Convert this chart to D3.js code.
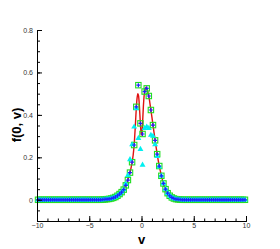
<!DOCTYPE html>
<html>
<head>
<meta charset="utf-8">
<script src="https://cdn.jsdelivr.net/npm/d3@7"></script>
<style>
  body { margin: 0; background: #fff; }
  svg { display: block; }
</style>
</head>
<body>
<div id="plot"></div>
<script>
const FRAME_WIDTH = 280;
const FRAME_HEIGHT = 249;
const MARGINS = {left: 37, right: 34, top: 30, bottom: 28};

// velocity grid of the markers
const VEL = [
  -9.9, -9.7, -9.5, -9.3, -9.1, -8.9, -8.7, -8.5, -8.3, -8.1,
  -7.9, -7.7, -7.5, -7.3, -7.1, -6.9, -6.7, -6.5, -6.3, -6.1,
  -5.9, -5.7, -5.5, -5.3, -5.1, -4.9, -4.7, -4.5, -4.3, -4.1,
  -3.9, -3.7, -3.5, -3.3, -3.1, -2.9, -2.7, -2.5, -2.3, -2.1,
  -1.9, -1.7, -1.5, -1.3, -1.1, -0.9, -0.7, -0.5, -0.3, -0.1,
  0.1, 0.3, 0.5, 0.7, 0.9, 1.1, 1.3, 1.5, 1.7, 1.9,
  2.1, 2.3, 2.5, 2.7, 2.9, 3.1, 3.3, 3.5, 3.7, 3.9,
  4.1, 4.3, 4.5, 4.7, 4.9, 5.1, 5.3, 5.5, 5.7, 5.9,
  6.1, 6.3, 6.5, 6.7, 6.9, 7.1, 7.3, 7.5, 7.7, 7.9,
  8.1, 8.3, 8.5, 8.7, 8.9, 9.1, 9.3, 9.5, 9.7, 9.9
];

// green squares
const F_SQUARE = [
  0, 0, 0, 0, 0, 0, 0, 0, 0, 0,
  0, 0, 0, 0, 0, 0, 0, 0, 0, 0,
  0, 0, 0, 0, 0, 0, 0, 0, 0, 0,
  0, 0.001, 0.002, 0.003, 0.004, 0.006, 0.009, 0.013, 0.019, 0.027,
  0.036, 0.048, 0.068, 0.093, 0.128, 0.177, 0.258, 0.438, 0.54, 0.36,
  0.31, 0.51, 0.525, 0.489, 0.423, 0.352, 0.28, 0.215, 0.159, 0.113,
  0.077, 0.05, 0.031, 0.019, 0.011, 0.006, 0.003, 0.002, 0.001, 0,
  0, 0, 0, 0, 0, 0, 0, 0, 0, 0,
  0, 0, 0, 0, 0, 0, 0, 0, 0, 0,
  0, 0, 0, 0, 0, 0, 0, 0, 0, 0
];

// blue crosses
const F_CROSS = [
  0, 0, 0, 0, 0, 0, 0, 0, 0, 0,
  0, 0, 0, 0, 0, 0, 0, 0, 0, 0,
  0, 0, 0, 0, 0, 0, 0, 0, 0, 0,
  0, 0.001, 0.002, 0.003, 0.004, 0.006, 0.009, 0.013, 0.019, 0.027,
  0.036, 0.048, 0.068, 0.093, 0.128, 0.177, 0.258, 0.438, 0.54, 0.36,
  0.31, 0.51, 0.525, 0.489, 0.423, 0.352, 0.28, 0.215, 0.159, 0.113,
  0.077, 0.05, 0.031, 0.019, 0.011, 0.006, 0.003, 0.002, 0.001, 0,
  0, 0, 0, 0, 0, 0, 0, 0, 0, 0,
  0, 0, 0, 0, 0, 0, 0, 0, 0, 0,
  0, 0, 0, 0, 0, 0, 0, 0, 0, 0
];

// cyan triangles
const F_TRIANGLE = [
  0, 0, 0, 0, 0, 0, 0, 0, 0, 0,
  0, 0, 0, 0, 0, 0, 0, 0, 0, 0,
  0, 0, 0, 0, 0, 0, 0, 0, 0, 0,
  0, 0.001, 0.002, 0.003, 0.004, 0.006, 0.009, 0.013, 0.019, 0.027,
  0.036, 0.048, 0.075, 0.115, 0.19, 0.26, 0.344, 0.43, 0.29, 0.238,
  0.164, 0.337, 0.344, 0.337, 0.305, 0.3, 0.26, 0.205, 0.155, 0.113,
  0.077, 0.05, 0.031, 0.019, 0.011, 0.006, 0.003, 0.002, 0.001, 0,
  0, 0, 0, 0, 0, 0, 0, 0, 0, 0,
  0, 0, 0, 0, 0, 0, 0, 0, 0, 0,
  0, 0, 0, 0, 0, 0, 0, 0, 0, 0
];

// red reference curve
const LINE_V = [-10, -4, -3.5, -3, -2.6, -2.2, -1.9, -1.6, -1.3, -1.0, -0.8, -0.7, -0.6, -0.5,
  -0.42, -0.35, -0.28, -0.2, -0.12, -0.05, 0.02, 0.1, 0.18, 0.25, 0.33, 0.42, 0.5, 0.6,
  0.7, 0.8, 0.9, 1.0, 1.2, 1.4, 1.6, 1.8, 2.0, 2.2, 2.5, 2.8, 3.2, 3.6, 4.2, 10];
const LINE_F = [0, 0.0005, 0.002, 0.005, 0.01, 0.02, 0.036, 0.06, 0.094, 0.15, 0.21, 0.26, 0.34, 0.43,
  0.48, 0.5, 0.49, 0.44, 0.37, 0.32, 0.305, 0.36, 0.44, 0.49, 0.515, 0.53, 0.528, 0.51,
  0.488, 0.457, 0.423, 0.388, 0.316, 0.248, 0.186, 0.136, 0.095, 0.064, 0.034, 0.017, 0.006, 0.002, 0.0005, 0];

const X_TICKS = [-10, -5, 0, 5, 10];
const Y_TICKS = [0, 0.2, 0.4, 0.6, 0.8];

const VIS_WIDTH = FRAME_WIDTH - MARGINS.left - MARGINS.right;
const VIS_HEIGHT = FRAME_HEIGHT - MARGINS.top - MARGINS.bottom;

const FRAME = d3.select("#plot")
                .append("svg")
                  .attr("width", FRAME_WIDTH)
                  .attr("height", FRAME_HEIGHT);

const X_SCALE = d3.scaleLinear()
                  .domain([-10, 10])
                  .range([MARGINS.left, MARGINS.left + VIS_WIDTH]);

const Y_SCALE = d3.scaleLinear()
                  .domain([-0.1, 0.8])
                  .range([MARGINS.top + VIS_HEIGHT, MARGINS.top]);

// red line first, markers go on top
const lineData = LINE_V.map((v, i) => ({v: v, f: LINE_F[i]}));
FRAME.append("path")
      .datum(lineData)
      .attr("fill", "none")
      .attr("stroke", "#e01010")
      .attr("stroke-width", 1.4)
      .attr("d", d3.line()
                   .x(d => X_SCALE(d.v))
                   .y(d => Y_SCALE(d.f))
                   .curve(d3.curveMonotoneX));

// open green squares
FRAME.selectAll(".sq")
      .data(VEL.map((v, i) => ({v: v, f: F_SQUARE[i]})))
      .enter()
      .append("rect")
        .attr("class", "sq")
        .attr("x", d => X_SCALE(d.v) - 2.7)
        .attr("y", d => Y_SCALE(d.f) - 2.7)
        .attr("width", 5.4)
        .attr("height", 5.4)
        .attr("fill", "none")
        .attr("stroke", "#22dd22")
        .attr("stroke-width", 1.1);

// cyan triangles
FRAME.selectAll(".tri")
      .data(VEL.map((v, i) => ({v: v, f: F_TRIANGLE[i]})))
      .enter()
      .append("path")
        .attr("class", "tri")
        .attr("transform", d => "translate(" + X_SCALE(d.v) + "," + Y_SCALE(d.f) + ")")
        .attr("d", d3.symbol().type(d3.symbolTriangle).size(15))
        .attr("fill", "#00f0f0");

// blue crosses
FRAME.selectAll(".cr")
      .data(VEL.map((v, i) => ({v: v, f: F_CROSS[i]})))
      .enter()
      .append("path")
        .attr("class", "cr")
        .attr("transform", d => "translate(" + X_SCALE(d.v) + "," + Y_SCALE(d.f) + ")")
        .attr("d", "M-2,0H2M0,-2V2")
        .attr("stroke", "#2020ff")
        .attr("stroke-width", 1.2);

// axes: ticks point inward, minor ticks without labels
const xAxis = FRAME.append("g")
                   .attr("transform", "translate(0," + (MARGINS.top + VIS_HEIGHT) + ")");
xAxis.call(d3.axisBottom(X_SCALE).tickValues(d3.range(-10, 11, 1)).tickSize(-2.5).tickFormat(""));
xAxis.append("g").call(d3.axisBottom(X_SCALE).tickValues(X_TICKS).tickSize(-5).tickPadding(2.5).tickFormat(d3.format("d")));

const yAxis = FRAME.append("g")
                   .attr("transform", "translate(" + MARGINS.left + ",0)");
yAxis.call(d3.axisLeft(Y_SCALE).tickValues(d3.range(-0.05, 0.81, 0.05)).tickSize(-3).tickFormat(""));
yAxis.append("g").call(d3.axisLeft(Y_SCALE).tickValues(Y_TICKS).tickSize(-5).tickPadding(4).tickFormat(d => d === 0 ? "0" : d3.format(".1f")(d)));

FRAME.selectAll(".domain").attr("stroke", "#000").attr("stroke-width", 1);
FRAME.selectAll(".tick line").attr("stroke", "#000");
FRAME.selectAll(".tick text")
      .attr("font-family", "Liberation Sans, Arial, sans-serif")
      .attr("font-size", "7px")
      .attr("fill", "#333");

// axis titles
FRAME.append("text")
      .attr("x", X_SCALE(0))
      .attr("y", 243.5)
      .attr("text-anchor", "middle")
      .attr("font-family", "Liberation Sans, Arial, sans-serif")
      .attr("font-weight", "bold")
      .attr("font-size", "13px")
      .text("v");

FRAME.append("text")
      .attr("transform", "translate(21,125) rotate(-90)")
      .attr("text-anchor", "middle")
      .attr("font-family", "Liberation Sans, Arial, sans-serif")
      .attr("font-weight", "bold")
      .attr("font-size", "13px")
      .text("f(0, v)");
</script>
</body>
</html>
